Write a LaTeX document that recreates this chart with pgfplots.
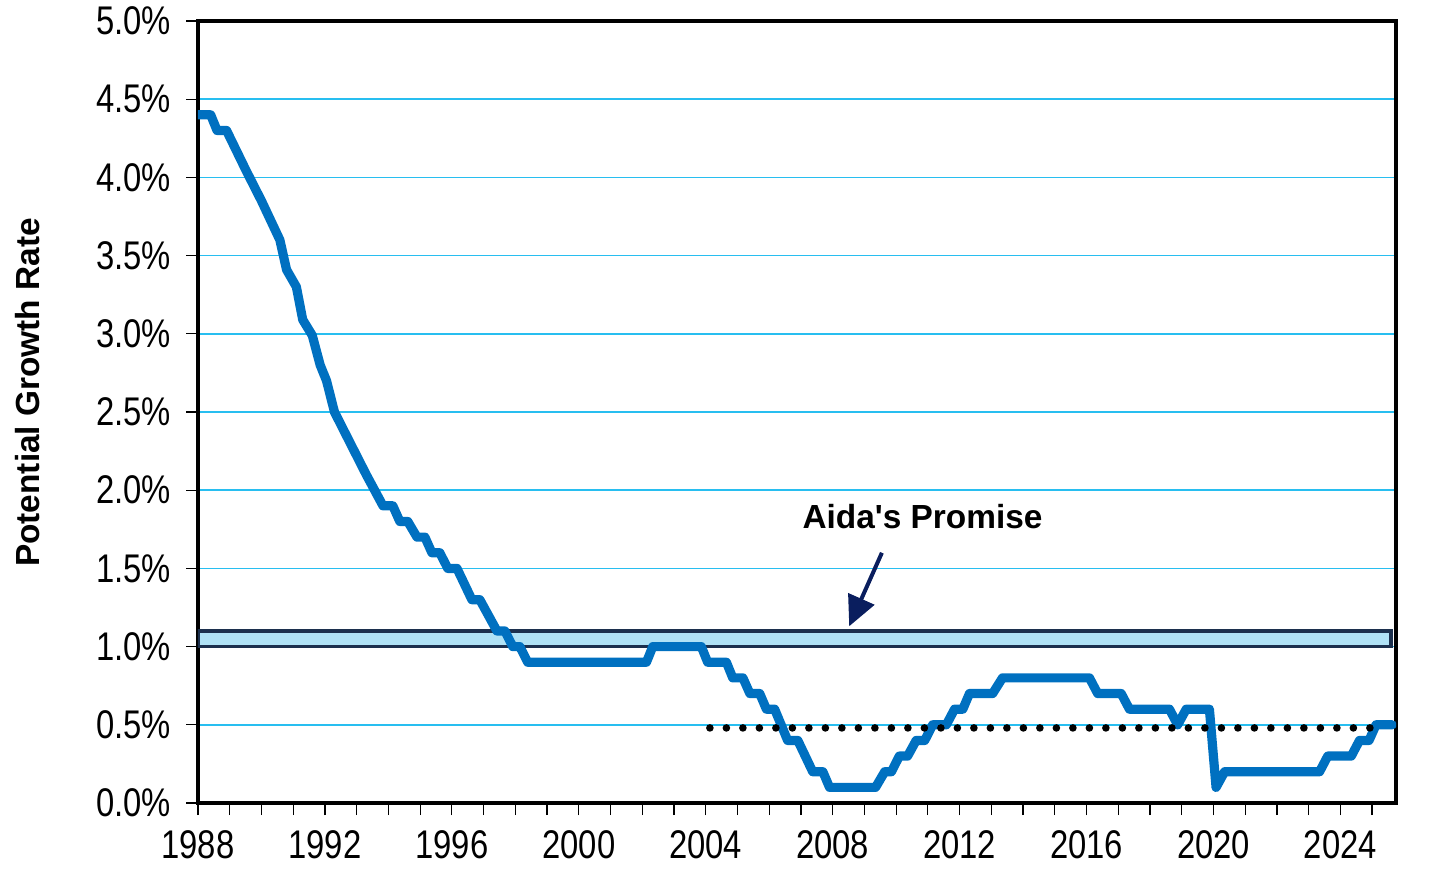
\documentclass[border=0pt]{standalone}
\usepackage{pgfplots}
\pgfplotsset{compat=1.18}
\usepackage{fontspec}
\setmainfont{Liberation Sans}
\newfontfamily\narrowfont[FakeStretch=0.82]{Liberation Sans}
\usetikzlibrary{arrows.meta}
\definecolor{lineblue}{RGB}{0,112,192}
\definecolor{gridblue}{RGB}{40,190,240}
\definecolor{bandfill}{RGB}{176,226,246}
\definecolor{banddraw}{RGB}{28,48,78}
\definecolor{arrownavy}{RGB}{10,30,94}
\begin{document}
\begin{tikzpicture}
\useasboundingbox (-99pt,-36pt) rectangle (629pt,401.5pt);
\begin{axis}[
  at={(0,0)}, anchor=south west,
  scale only axis, width=599pt, height=391pt,
  xmin=1988, xmax=2025.75, ymin=0, ymax=5,
  axis line style={line width=2pt, black},
  xtick={1988,1992,...,2024},
  minor xtick={1989,...,2025},
  ytick={0,0.5,...,5},
  xtick pos=bottom, ytick pos=left,
  tick align=outside,
  major tick length=6pt, minor tick length=6pt,
  every tick/.style={black, line width=0.6pt},
  ymajorgrids,
  major grid style={gridblue, line width=0.8pt},
  /pgf/number format/assume math mode=true,
  /pgf/number format/set thousands separator={},
  xticklabel style={font=\narrowfont\fontsize{20}{22}\selectfont, yshift=-4pt},
  yticklabel style={font=\narrowfont\fontsize{20}{22}\selectfont, xshift=-4pt},
  yticklabel={\pgfmathprintnumber[fixed,fixed zerofill,precision=1]{\tick}\%},
  every axis y label/.style={at={(axis description cs:-0.1419,0.525)}, rotate=90, anchor=center},
  ylabel={\fontsize{16.7}{20}\selectfont\bfseries Potential Growth Rate},
]
% Aida's promise band
\addplot[fill=bandfill, draw=banddraw, line width=1.8pt, line join=miter] coordinates {
(1988,1.0) (2025.6,1.0) (2025.6,1.1) (1988,1.1) (1988,1.0)} -- cycle;
% potential growth rate
\addplot[lineblue, line width=4.6pt, line join=round, line cap=round] coordinates {
(1988.0,4.40) (1988.4,4.40) (1988.6,4.30) (1988.9,4.30)
(1989.5,4.05) (1990.0,3.85) (1990.58,3.60) (1990.79,3.41) (1991.1,3.30)
(1991.3,3.09) (1991.6,2.99) (1991.85,2.80) (1992.05,2.70) (1992.3,2.50)
(1992.8,2.30) (1993.3,2.10) (1993.83,1.90) (1994.14,1.90) (1994.36,1.80)
(1994.61,1.80) (1994.9,1.70) (1995.15,1.70) (1995.37,1.60) (1995.62,1.60)
(1995.87,1.50) (1996.16,1.50) (1996.63,1.30) (1996.88,1.30) (1997.42,1.10)
(1997.67,1.10) (1997.92,1.00) (1998.14,1.00) (1998.39,0.90) (2002.13,0.90)
(2002.33,1.00) (2003.86,1.00) (2004.06,0.90) (2004.65,0.90) (2004.85,0.80)
(2005.17,0.80) (2005.39,0.70) (2005.7,0.70) (2005.91,0.60) (2006.17,0.60)
(2006.58,0.40) (2006.9,0.40) (2007.37,0.20) (2007.69,0.20) (2007.9,0.10)
(2009.35,0.10) (2009.64,0.20) (2009.85,0.20) (2010.1,0.30) (2010.36,0.30)
(2010.63,0.40) (2010.9,0.40) (2011.15,0.50) (2011.58,0.50) (2011.84,0.60)
(2012.1,0.60) (2012.31,0.70) (2013.04,0.70) (2013.35,0.80) (2016.09,0.80)
(2016.35,0.70) (2017.09,0.70) (2017.35,0.60) (2018.61,0.60) (2018.87,0.50)
(2019.14,0.60) (2019.87,0.60) (2020.08,0.10) (2020.35,0.20) (2023.34,0.20)
(2023.6,0.30) (2024.34,0.30) (2024.6,0.40) (2024.9,0.40) (2025.12,0.50)
(2025.63,0.50)};
% dotted reference line
\addplot[black, line width=3.8pt, line cap=round, dash pattern=on 0pt off 8.25pt] coordinates {
(2004.13,0.48) (2025.3,0.48)};
% annotation
\node[font=\fontsize{16.7}{20}\selectfont\bfseries] at (axis cs:2010.83,1.83) {Aida\textquotesingle s Promise};
\draw[arrownavy, line width=2pt, -{Triangle[length=15pt,width=14pt]}] (axis cs:2009.55,1.6) -- (axis cs:2008.52,1.13);
\end{axis}
\end{tikzpicture}
\end{document}
